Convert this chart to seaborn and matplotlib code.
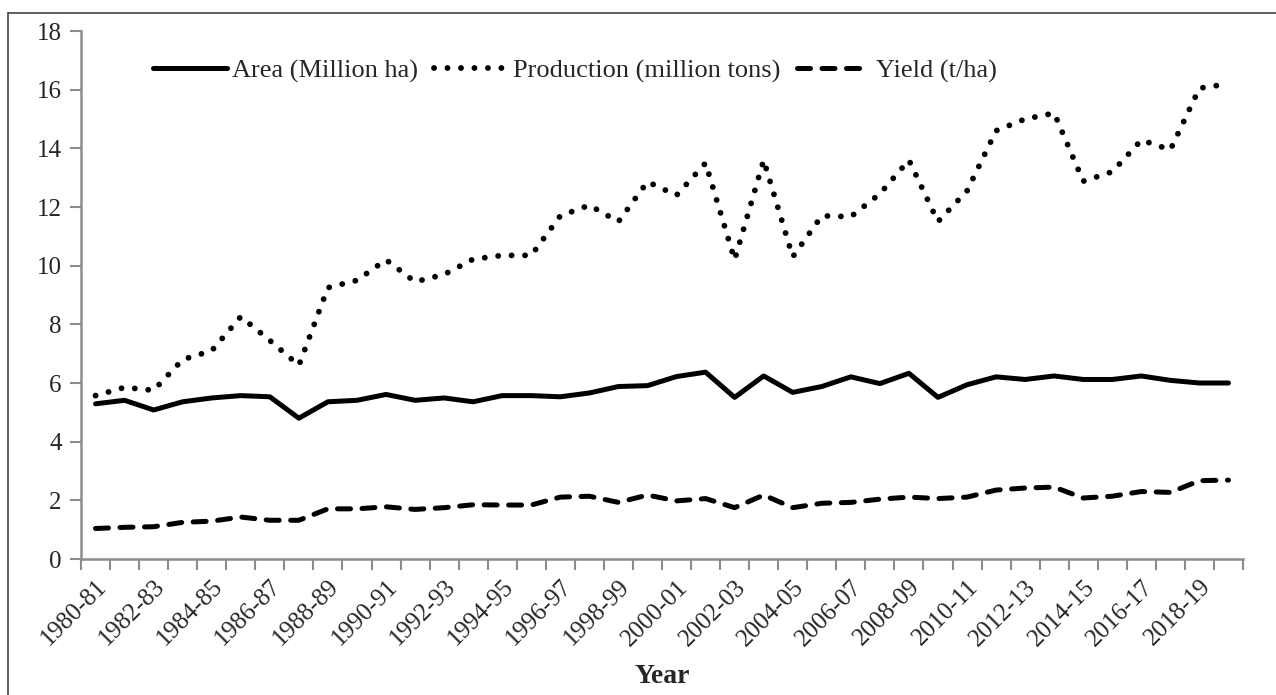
import matplotlib
matplotlib.use("Agg")
import matplotlib.pyplot as plt
from matplotlib.lines import Line2D
import numpy as np
import pandas as pd
import seaborn as sns

# crop seasons 1980-81 .. 2019-20
years = [f"{y}-{str(y + 1)[-2:]}" for y in range(1980, 2020)]

area = [5.29, 5.41, 5.08, 5.36, 5.49, 5.57, 5.53, 4.80, 5.36, 5.41,
        5.61, 5.41, 5.49, 5.36, 5.57, 5.57, 5.53, 5.66, 5.88, 5.91,
        6.22, 6.37, 5.51, 6.24, 5.68, 5.88, 6.21, 5.98, 6.33, 5.51,
        5.94, 6.21, 6.12, 6.24, 6.12, 6.12, 6.24, 6.09, 6.00, 6.00]

production = [5.57, 5.85, 5.75, 6.80, 7.10, 8.26, 7.45, 6.60, 9.25, 9.50,
              10.20, 9.45, 9.70, 10.22, 10.35, 10.35, 11.70, 12.06, 11.50, 12.86,
              12.40, 13.50, 10.20, 13.60, 10.30, 11.70, 11.67, 12.45, 13.60, 11.50,
              12.55, 14.60, 15.00, 15.20, 12.88, 13.20, 14.28, 13.95, 16.05, 16.20]

yield_ = [1.04, 1.08, 1.10, 1.25, 1.29, 1.43, 1.32, 1.32, 1.71, 1.71,
          1.78, 1.69, 1.75, 1.85, 1.84, 1.84, 2.11, 2.14, 1.93, 2.18,
          1.98, 2.06, 1.75, 2.18, 1.75, 1.90, 1.93, 2.04, 2.11, 2.06,
          2.11, 2.35, 2.42, 2.45, 2.08, 2.14, 2.30, 2.27, 2.67, 2.69]

df = pd.DataFrame({"Year": years, "Area": area,
                   "Production": production, "Yield": yield_})

sns.set_theme(style="white")
plt.rcParams["font.family"] = ["Liberation Serif", "DejaVu Serif"]

fig = plt.figure(figsize=(12.76, 6.95), dpi=100)
ax = fig.add_axes([81 / 1276, 136 / 695, 1162 / 1276, 528 / 695])

lw = 3.6
sns.lineplot(data=df, x="Year", y="Area", ax=ax, sort=False, color="black",
             lw=lw, solid_capstyle="round", label="Area (Million ha)")
sns.lineplot(data=df, x="Year", y="Production", ax=ax, sort=False, color="black",
             lw=4.2, linestyle=(0, (0.01, 2.3)), dash_capstyle="round",
             label="Production (million tons)")
sns.lineplot(data=df, x="Year", y="Yield", ax=ax, sort=False, color="black",
             lw=lw, linestyle=(0, (2.6, 2.3)), dash_capstyle="round",
             label="Yield (t/ha)")

# axes styling (Excel-like)
ax.set_ylim(0, 18)
ax.set_yticks(np.arange(0, 19, 2))
ax.set_xlim(-0.5, len(years) - 0.5)
ax.set_xticks(range(0, len(years), 2))
ax.set_xticklabels(years[::2], rotation=45, ha="right", rotation_mode="anchor")
ax.set_xticks(np.arange(-0.5, len(years), 1), minor=True)
ax.tick_params(axis="x", which="major", length=0, pad=12, labelsize=18)
ax.tick_params(axis="x", which="minor", length=8, width=1.5, color="#8c8c8c",
               direction="out", bottom=True)
ax.tick_params(axis="y", length=8, width=1.5, color="#8c8c8c",
               direction="out", left=True, labelsize=18, pad=6)

for side in ["top", "right"]:
    ax.spines[side].set_visible(False)
for side in ["left", "bottom"]:
    ax.spines[side].set_color("#8c8c8c")
    ax.spines[side].set_linewidth(1.8)

ax.set_ylabel("")
ax.set_xlabel("Year", fontsize=20, fontweight="bold", labelpad=10)

ax.legend(loc="center", bbox_to_anchor=(0.425, 0.925), ncol=3, frameon=False,
          fontsize=19, handlelength=2.8, handletextpad=0.2,
          columnspacing=0.6, borderaxespad=0)

# thin frame around the chart area (only top and left visible in the crop)
fig.add_artist(Line2D([8 / 1276, 1], [1 - 13 / 695] * 2,
                      transform=fig.transFigure, color="#444444", lw=1.2))
fig.add_artist(Line2D([8 / 1276] * 2, [0, 1 - 13 / 695],
                      transform=fig.transFigure, color="#444444", lw=1.2))

fig.savefig("out.png", dpi=100)
